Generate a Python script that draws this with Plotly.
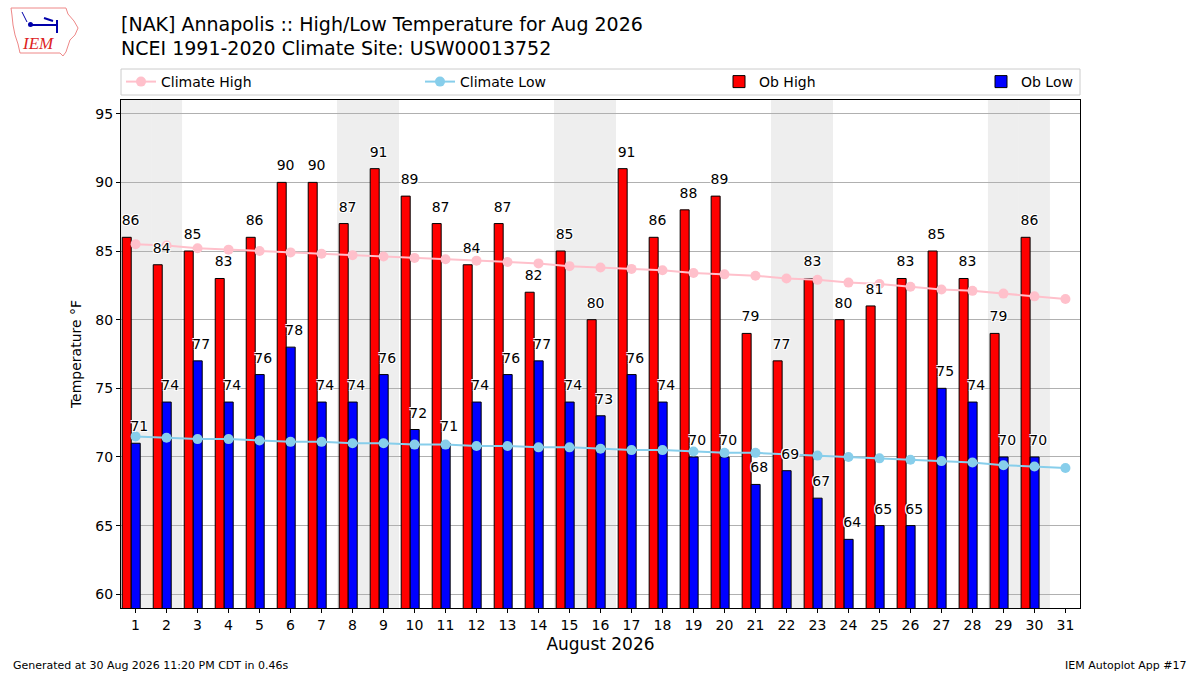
import datetime
import plotly.graph_objects as go

# August 2026 observations, Annapolis (NAK)
days = list(range(1, 32))
ob_high = [86, 84, 85, 83, 86, 90, 90, 87, 91, 89, 87, 84, 87, 82, 85, 80,
           91, 86, 88, 89, 79, 77, 83, 80, 81, 83, 85, 83, 79, 86, None]
ob_low = [71, 74, 77, 74, 76, 78, 74, 74, 76, 72, 71, 74, 76, 77, 74, 73,
          76, 74, 70, 70, 68, 69, 67, 64, 65, 65, 75, 74, 70, 70, None]
clim_high = [85.5, 85.4, 85.2, 85.1, 85.0, 84.9, 84.8, 84.7, 84.6, 84.5, 84.4,
             84.3, 84.2, 84.1, 83.9, 83.8, 83.7, 83.6, 83.4, 83.3, 83.2, 83.0,
             82.9, 82.7, 82.6, 82.4, 82.2, 82.1, 81.9, 81.7, 81.5]
clim_low = [71.5, 71.4, 71.3, 71.3, 71.2, 71.1, 71.1, 71.0, 71.0, 70.9, 70.9,
            70.8, 70.8, 70.7, 70.7, 70.6, 70.5, 70.5, 70.4, 70.3, 70.3, 70.2,
            70.1, 70.0, 69.9, 69.8, 69.7, 69.6, 69.4, 69.3, 69.2]
yticks = [60, 65, 70, 75, 80, 85, 90, 95]

FONT = "DejaVu Sans"

# plot area in pixels, used for the decorations outside the axes
L, T, W, H = 121, 100, 959, 508


def px(x):
    return (x - L) / W


def py(y):
    return (T + H - y) / H


fig = go.Figure()

fig.add_trace(go.Scatter(x=days, y=clim_high, name="Climate High", mode="lines+markers",
                         line=dict(color="#ffc0cb", width=2), marker=dict(size=10, color="#ffc0cb"),
                         legend="legend"))
fig.add_trace(go.Scatter(x=days, y=clim_low, name="Climate Low", mode="lines+markers",
                         line=dict(color="#87ceeb", width=2), marker=dict(size=10, color="#87ceeb"),
                         legend="legend"))
fig.add_trace(go.Bar(x=days, y=ob_high, name="Ob High", offset=-0.43, width=0.29,
                     marker=dict(color="#ff0000", line=dict(color="black", width=1)),
                     legend="legend"))
fig.add_trace(go.Bar(x=days, y=ob_low, name="Ob Low", offset=-0.14, width=0.29,
                     marker=dict(color="#0000ff", line=dict(color="black", width=1)),
                     legend="legend2"))

# value labels, drawn on top with a white halo
halo = "1px 1px 0 white, -1px -1px 0 white, 1px -1px 0 white, -1px 1px 0 white"
hx = [d - 0.16 for d, v in zip(days, ob_high) if v is not None]
hv = [v for v in ob_high if v is not None]
lx = [d + 0.12 for d, v in zip(days, ob_low) if v is not None]
lv = [v for v in ob_low if v is not None]
for xs, vs in ((hx, hv), (lx, lv)):
    fig.add_trace(go.Scatter(x=xs, y=vs, text=[str(v) for v in vs], mode="markers+text",
                             marker=dict(size=12, opacity=0), textposition="top center",
                             textfont=dict(family=FONT, size=14, color="black", shadow=halo),
                             showlegend=False, hoverinfo="skip", cliponaxis=False))

# weekend shading
shapes = []
for d in days:
    if datetime.date(2026, 8, d).weekday() >= 5:
        shapes.append(dict(type="rect", xref="x", yref="paper", x0=d - 0.5, x1=d + 0.5,
                           y0=0, y1=1, fillcolor="#eeeeee", line=dict(width=0), layer="below"))

# legend frame
shapes.append(dict(type="rect", xref="paper", yref="paper", x0=px(121), x1=px(1080),
                   y0=py(95), y1=py(69), line=dict(color="#cccccc", width=1),
                   fillcolor="white", layer="above"))

# rough IEM logo: Iowa outline
iowa = [(11, 8), (66, 8), (68, 14), (74, 21), (78, 28), (75, 35), (70, 40), (68, 46),
        (66, 52), (63, 56), (60, 53), (20, 53), (18, 44), (15, 35), (13, 25), (12, 15)]
path = "M " + " L ".join(f"{px(a):.4f},{py(b):.4f}" for a, b in iowa) + " Z"
shapes.append(dict(type="path", xref="paper", yref="paper", path=path,
                   line=dict(color="#ee8888", width=1)))
shapes.append(dict(type="line", xref="paper", yref="paper", x0=px(30), y0=py(25), x1=px(57), y1=py(25),
                   line=dict(color="#0000aa", width=2)))
shapes.append(dict(type="line", xref="paper", yref="paper", x0=px(57), y0=py(20), x1=px(57), y1=py(33),
                   line=dict(color="#0000aa", width=2)))
shapes.append(dict(type="line", xref="paper", yref="paper", x0=px(44), y0=py(18), x1=px(53), y1=py(21),
                   line=dict(color="#0000aa", width=2)))
shapes.append(dict(type="line", xref="paper", yref="paper", x0=px(22), y0=py(12), x1=px(27), y1=py(22),
                   line=dict(color="#0000aa", width=1)))
shapes.append(dict(type="circle", xref="paper", yref="paper", x0=px(28), y0=py(22), x1=px(33), y1=py(27),
                   fillcolor="#0000aa", line=dict(width=0)))

annotations = [
    dict(text="<i>IEM</i>", x=px(38), y=py(44), xref="paper", yref="paper", showarrow=False,
         font=dict(family="Liberation Serif", size=17, color="#dd2222"), xanchor="center", yanchor="middle"),
    dict(text="[NAK] Annapolis :: High/Low Temperature for Aug 2026", x=px(119), y=py(24),
         xref="paper", yref="paper", showarrow=False, xanchor="left", yanchor="middle",
         font=dict(family=FONT, size=19, color="black")),
    dict(text="NCEI 1991-2020 Climate Site: USW00013752", x=px(119), y=py(48),
         xref="paper", yref="paper", showarrow=False, xanchor="left", yanchor="middle",
         font=dict(family=FONT, size=19, color="black")),
    dict(text="Generated at 30 Aug 2026 11:20 PM CDT in 0.46s", x=px(11), y=py(665),
         xref="paper", yref="paper", showarrow=False, xanchor="left", yanchor="middle",
         font=dict(family=FONT, size=11, color="black")),
    dict(text="IEM Autoplot App #17", x=px(1189), y=py(665),
         xref="paper", yref="paper", showarrow=False, xanchor="right", yanchor="middle",
         font=dict(family=FONT, size=11, color="black")),
]

fig.update_layout(
    width=1200, height=675,
    margin=dict(l=L, r=1200 - L - W, t=T, b=675 - T - H),
    paper_bgcolor="white", plot_bgcolor="white",
    font=dict(family=FONT, size=14, color="black"),
    barmode="overlay",
    shapes=shapes,
    annotations=annotations,
    legend=dict(orientation="h", x=px(121), y=py(82), xanchor="left", yanchor="middle",
                entrywidth=254, bgcolor="rgba(0,0,0,0)", borderwidth=0,
                font=dict(family=FONT, size=14), traceorder="normal"),
    legend2=dict(orientation="h", x=px(1078), y=py(82), xanchor="right", yanchor="middle",
                 bgcolor="rgba(0,0,0,0)", borderwidth=0, font=dict(family=FONT, size=14)),
    xaxis=dict(range=[0.53, 31.47], tickvals=days, ticktext=[str(d) for d in days],
               showgrid=False, zeroline=False, showline=True, linecolor="black", mirror=True,
               ticks="outside", ticklen=4, tickcolor="black", tickfont=dict(size=14),
               title=dict(text="August 2026", font=dict(size=17), standoff=6)),
    yaxis=dict(range=[59, 96], tickvals=yticks, showgrid=True, gridcolor="#b0b0b0",
               zeroline=False, showline=True, linecolor="black", mirror=True,
               ticks="outside", ticklen=4, tickcolor="black", tickfont=dict(size=14),
               title=dict(text="Temperature °F", font=dict(size=14), standoff=10)),
)

fig.write_html("out.html", config={"displayModeBar": False},
               post_script="document.body.style.margin='0';")
